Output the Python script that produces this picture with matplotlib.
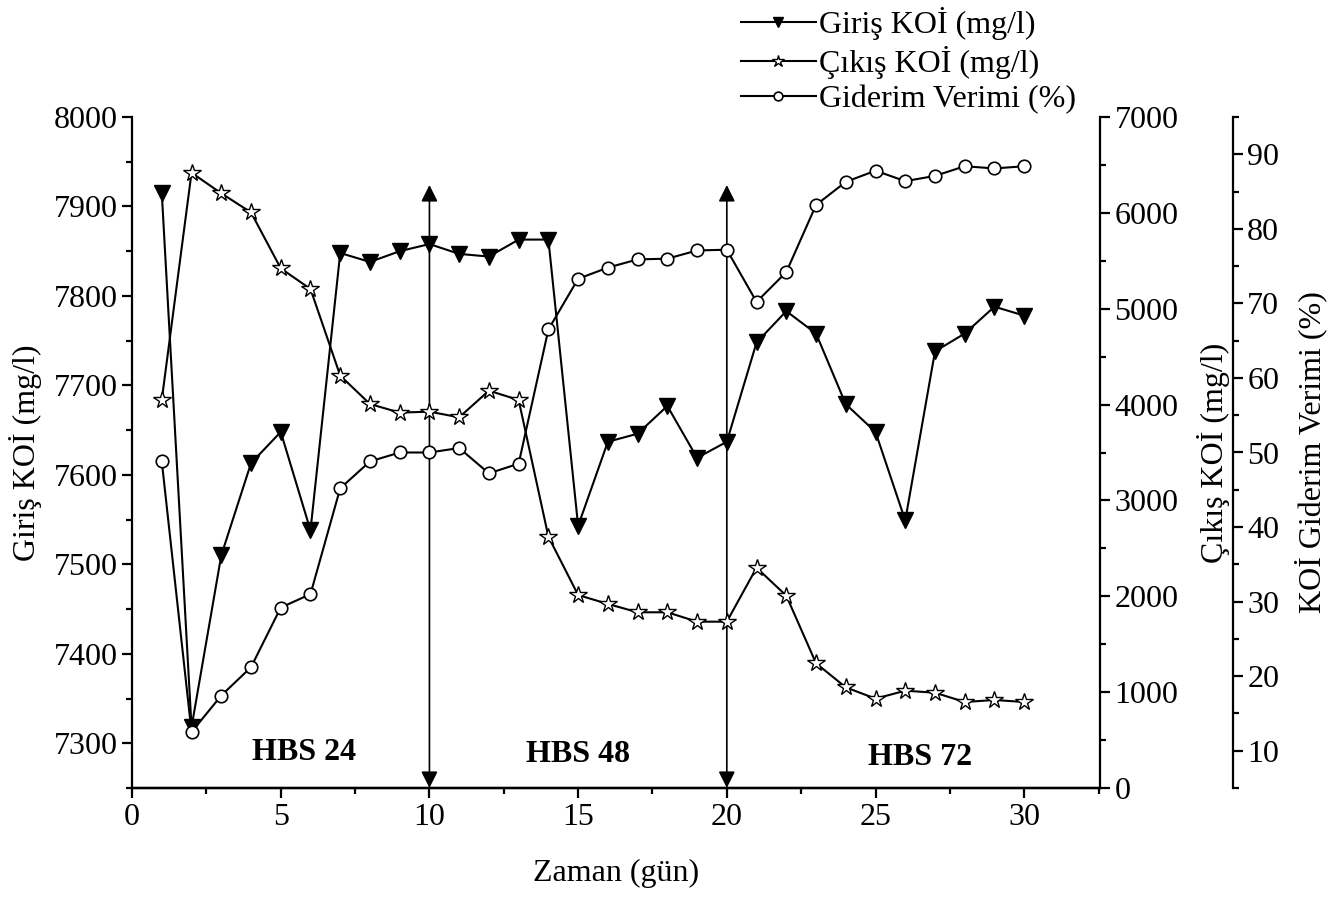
import numpy as np
import matplotlib.pyplot as plt
from matplotlib.ticker import MultipleLocator

plt.rcParams['font.family'] = ['Liberation Serif', 'DejaVu Serif']
plt.rcParams['mathtext.fontset'] = 'stix'

fs = 23
lw = 1.5

gun = list(range(1, 31))
giris = [7915, 7318, 7510, 7613, 7648, 7538, 7848, 7838, 7850, 7858,
         7847, 7844, 7863, 7863, 7543, 7637, 7646, 7677, 7619, 7637,
         7748, 7783, 7758, 7679, 7648, 7549, 7738, 7758, 7788, 7778]
cikis = [4050, 6419, 6204, 6005, 5421, 5206, 4302, 4006, 3916, 3926,
         3867, 4145, 4048, 2622, 2013, 1920, 1833, 1833, 1735, 1735,
         2298, 2006, 1301, 1050, 932, 1015, 994, 897, 918, 897]
verim = [48.8, 12.5, 17.4, 21.2, 29.2, 31.0, 45.2, 48.8, 50.0, 50.0,
         50.6, 47.2, 48.5, 66.5, 73.3, 74.8, 75.9, 76.0, 77.1, 77.2,
         70.2, 74.2, 83.2, 86.3, 87.8, 86.4, 87.1, 88.4, 88.1, 88.4]

fig = plt.figure(figsize=(13.42, 9.05), dpi=100)
ax = fig.add_axes([0.0984, 0.1293, 0.7213, 0.7414])
ax2 = ax.twinx()
ax3 = ax.twinx()
ax3.spines['right'].set_position(('axes', 1.137))

for a in [ax, ax2, ax3]:
    a.spines['top'].set_visible(False)
    for s in a.spines.values():
        s.set_linewidth(1.6)
    a.tick_params(direction='out', which='major', length=7, width=1.6, labelsize=fs)
    a.tick_params(direction='out', which='minor', length=4, width=1.6)
ax.spines['right'].set_visible(False)
ax3.spines['left'].set_visible(False)
ax2.spines['left'].set_visible(False)

l1, = ax.plot(gun, giris, color='black', lw=lw, marker='v', markersize=11,
              markerfacecolor='black', label='Giriş KOİ (mg/l)')
l2, = ax2.plot(gun, cikis, color='black', lw=lw, marker='*', markersize=13,
               markerfacecolor='white', markeredgewidth=1.0, label='Çıkış KOİ (mg/l)')
l3, = ax3.plot(gun, verim, color='black', lw=lw, marker='o', markersize=9,
               markerfacecolor='white', markeredgewidth=1.2, label='Giderim Verimi (%)')

ax.set_xlim(0, 32.55)
ax.set_ylim(7250, 8000)
ax2.set_ylim(0, 7000)
ax3.set_ylim(5, 95)

ax.xaxis.set_major_locator(MultipleLocator(5))
ax.xaxis.set_minor_locator(MultipleLocator(2.5))
ax.yaxis.set_minor_locator(MultipleLocator(50))
ax.set_yticks([7300, 7400, 7500, 7600, 7700, 7800, 7900, 8000])
ax2.yaxis.set_major_locator(MultipleLocator(1000))
ax2.yaxis.set_minor_locator(MultipleLocator(500))
ax3.set_yticks([10, 20, 30, 40, 50, 60, 70, 80, 90])
ax3.yaxis.set_minor_locator(MultipleLocator(5))

# periyot sinirlari
for xv in [10, 20]:
    ax.annotate('', xy=(xv, 7924), xytext=(xv, 7250),
                arrowprops=dict(arrowstyle='<|-|>', color='black', lw=1.2,
                                mutation_scale=25, shrinkA=0, shrinkB=0))

ax.text(5.8, 7290, 'HBS 24', fontsize=fs, fontweight='bold', ha='center', va='center')
ax.text(15.0, 7287, 'HBS 48', fontsize=fs, fontweight='bold', ha='center', va='center')
ax.text(26.5, 7284, 'HBS 72', fontsize=fs, fontweight='bold', ha='center', va='center')

ax.set_xlabel('Zaman (gün)', fontsize=fs, labelpad=20)
ax.set_ylabel('Giriş KOİ (mg/l)', fontsize=fs, labelpad=8)
ax2.set_ylabel('Çıkış KOİ (mg/l)', fontsize=fs, labelpad=13)
ax3.set_ylabel('KOİ Giderim Verimi (%)', fontsize=fs, labelpad=11)

fig.legend(handles=[l1, l2, l3], loc='upper left', bbox_to_anchor=(0.5425, 1.006),
           frameon=False, fontsize=fs, handlelength=2.35, labelspacing=0.18,
           handletextpad=0.1, borderaxespad=0, markerscale=0.7)

fig.savefig('out.png', dpi=100)
